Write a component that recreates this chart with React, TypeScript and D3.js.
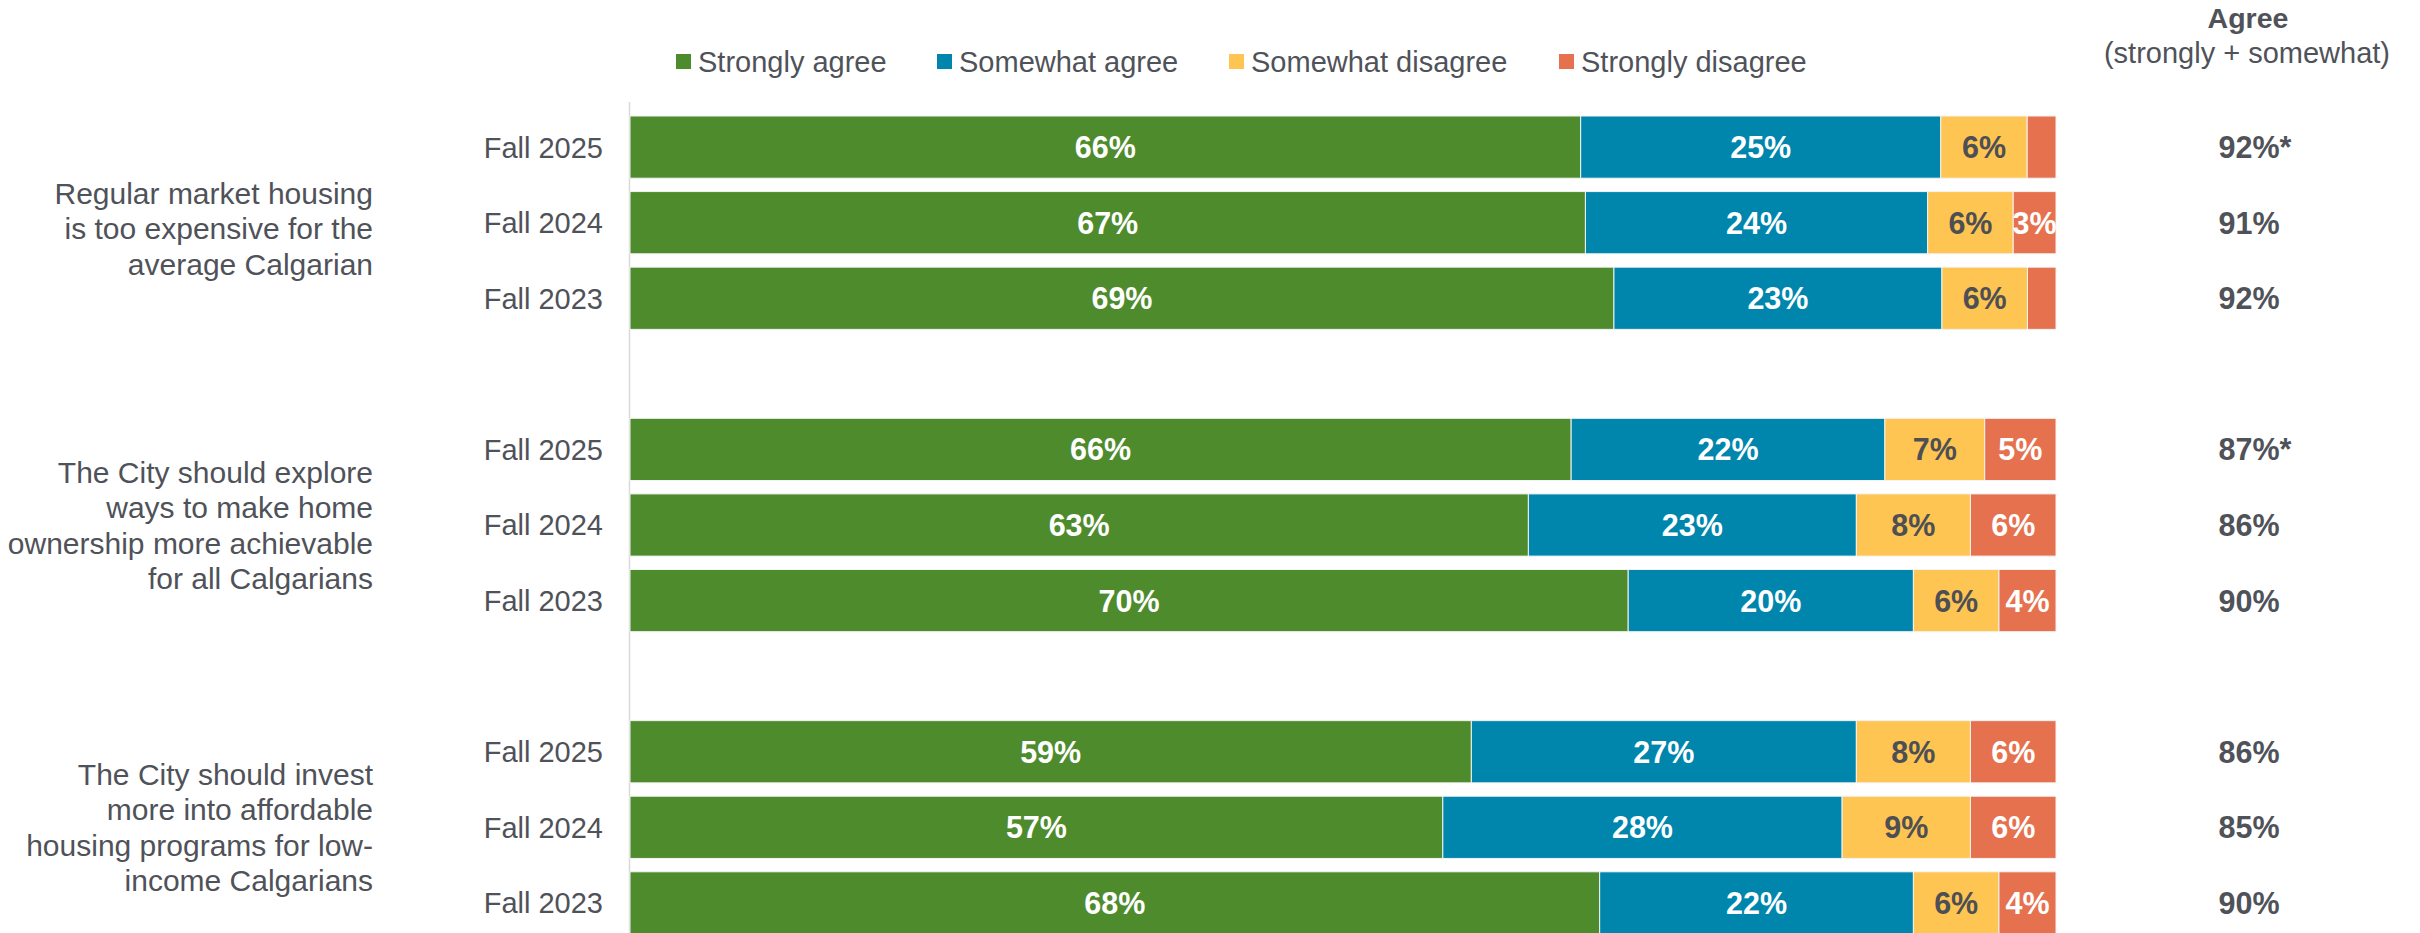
import React from 'react';
import * as d3 from 'd3';

// statements (left-hand group labels), one line per entry
const statements = [
  ['Regular market housing', 'is too expensive for the', 'average Calgarian'],
  ['The City should explore', 'ways to make home', 'ownership more achievable', 'for all Calgarians'],
  ['The City should invest', 'more into affordable', 'housing programs for low-', 'income Calgarians'],
];
const waves = ['Fall 2025', 'Fall 2024', 'Fall 2023'];

// one value per bar, in order: statement 1 (2025, 2024, 2023), statement 2 ..., statement 3 ...
const stronglyAgree = [66, 67, 69, 66, 63, 70, 59, 57, 68];
const somewhatAgree = [25, 24, 23, 22, 23, 20, 27, 28, 22];
const somewhatDisagree = [6, 6, 6, 7, 8, 6, 8, 9, 6];
const stronglyDisagree = [2, 3, 2, 5, 6, 4, 6, 6, 4];
const agreeTotals = ['92%', '91%', '92%', '87%', '86%', '90%', '86%', '85%', '90%'];
const agreeFlags = ['*', '', '', '*', '', '', '', '', ''];

const seriesNames = ['Strongly agree', 'Somewhat agree', 'Somewhat disagree', 'Strongly disagree'];
const colors = ['#4e8b2d', '#0086ad', '#fec552', '#e6714f'];
const labelColors = ['#ffffff', '#ffffff', '#4d4f54', '#ffffff'];

const W = 2420;
const H = 933;
const textColor = '#4f5259';
const font = '"Liberation Sans", Arial, sans-serif';

type Row = { key: string; group: number; wave: number; [k: string]: any };

const App: React.FC = () => {
  const rows: Row[] = stronglyAgree.map((_, i) => ({
    key: `r${i}`,
    group: Math.floor(i / 3),
    wave: i % 3,
    s0: stronglyAgree[i],
    s1: somewhatAgree[i],
    s2: somewhatDisagree[i],
    s3: stronglyDisagree[i],
  }));

  // bar slots with an empty slot between statements
  const slots: string[] = [];
  rows.forEach((r, i) => {
    slots.push(r.key);
    if (i % 3 === 2 && i < rows.length - 1) slots.push(`gap${r.group}`);
  });

  const y = d3.scaleBand<string>().domain(slots).range([116, 934]).paddingInner(0.177).paddingOuter(0);
  const x = d3.scaleLinear().domain([0, 1]).range([630, 2056]);

  const stack = d3.stack<Row>().keys(['s0', 's1', 's2', 's3']).offset(d3.stackOffsetExpand);
  const layers = stack(rows);

  const bw = y.bandwidth();
  const totalX = 2249;
  const totalSize = 30.5;

  const legendX = [676, 937, 1229, 1559];
  // the first statement's text sits a little lower than its middle bar
  const labelShift = [6, 0, 0];

  return (
    <svg width={W} height={H} style={{ position: 'absolute', left: 0, top: 0 }} fontFamily={font}>
      <rect width={W} height={H} fill="#fff" />

      {/* legend */}
      {seriesNames.map((n, i) => (
        <g key={n} transform={`translate(${legendX[i]},0)`}>
          <rect x={0} y={54} width={15} height={15} fill={colors[i]} />
          <text x={22} y={72} fontSize={29} fill={textColor}>{n}</text>
        </g>
      ))}

      {/* agree column header */}
      <text x={totalX - 1} y={28} textAnchor="middle" fontSize={28.5} fontWeight="bold" fill={textColor}>Agree</text>
      <text x={totalX - 2} y={63} textAnchor="middle" fontSize={29} fill={textColor}>(strongly + somewhat)</text>

      {/* vertical axis line */}
      <line x1={x(0) - 0.5} x2={x(0) - 0.5} y1={102} y2={H} stroke="#d9d9d9" strokeWidth={1.5} />

      {/* bars */}
      {layers.map((layer, li) => (
        <g key={layer.key}>
          {layer.map((d, ri) => {
            const r = rows[ri];
            const x0 = x(d[0]);
            const x1 = x(d[1]);
            const yy = y(r.key)!;
            const v = r[layer.key] as number;
            return (
              <g key={r.key}>
                <rect x={x0} y={yy} width={x1 - x0} height={bw} fill={colors[li]} stroke="#f3f3f3" strokeWidth={1} />
                {v >= 3 && (
                  <text x={(x0 + x1) / 2} y={yy + bw / 2} dy="0.36em" textAnchor="middle" fontSize={30.5} fontWeight="bold" fill={labelColors[li]}>
                    {`${v}%`}
                  </text>
                )}
              </g>
            );
          })}
        </g>
      ))}

      {/* wave labels and totals */}
      {rows.map((r, i) => {
        const cy = y(r.key)! + bw / 2;
        const numW = 2.001 * totalSize;
        return (
          <g key={`lab${r.key}`}>
            <text x={603} y={cy} dy="0.36em" textAnchor="end" fontSize={29} fill={textColor}>{waves[r.wave]}</text>
            <text x={totalX} y={cy} dy="0.36em" textAnchor="middle" fontSize={totalSize} fontWeight="bold" fill={textColor}>{agreeTotals[i]}</text>
            {agreeFlags[i] && (
              <text x={totalX + numW / 2} y={cy} dy="0.36em" fontSize={totalSize} fontWeight="bold" fill={textColor}>{agreeFlags[i]}</text>
            )}
          </g>
        );
      })}

      {/* statement labels */}
      {statements.map((lines, gi) => {
        const mid = y(`r${gi * 3 + 1}`)! + bw / 2 + labelShift[gi];
        const lh = 35.5;
        const top = mid - ((lines.length - 1) * lh) / 2;
        return (
          <text key={gi} textAnchor="end" fontSize={30} fill={textColor}>
            {lines.map((l, li) => (
              <tspan key={li} x={373} y={top + li * lh} dy="0.36em">{l}</tspan>
            ))}
          </text>
        );
      })}
    </svg>
  );
};

export default App;
